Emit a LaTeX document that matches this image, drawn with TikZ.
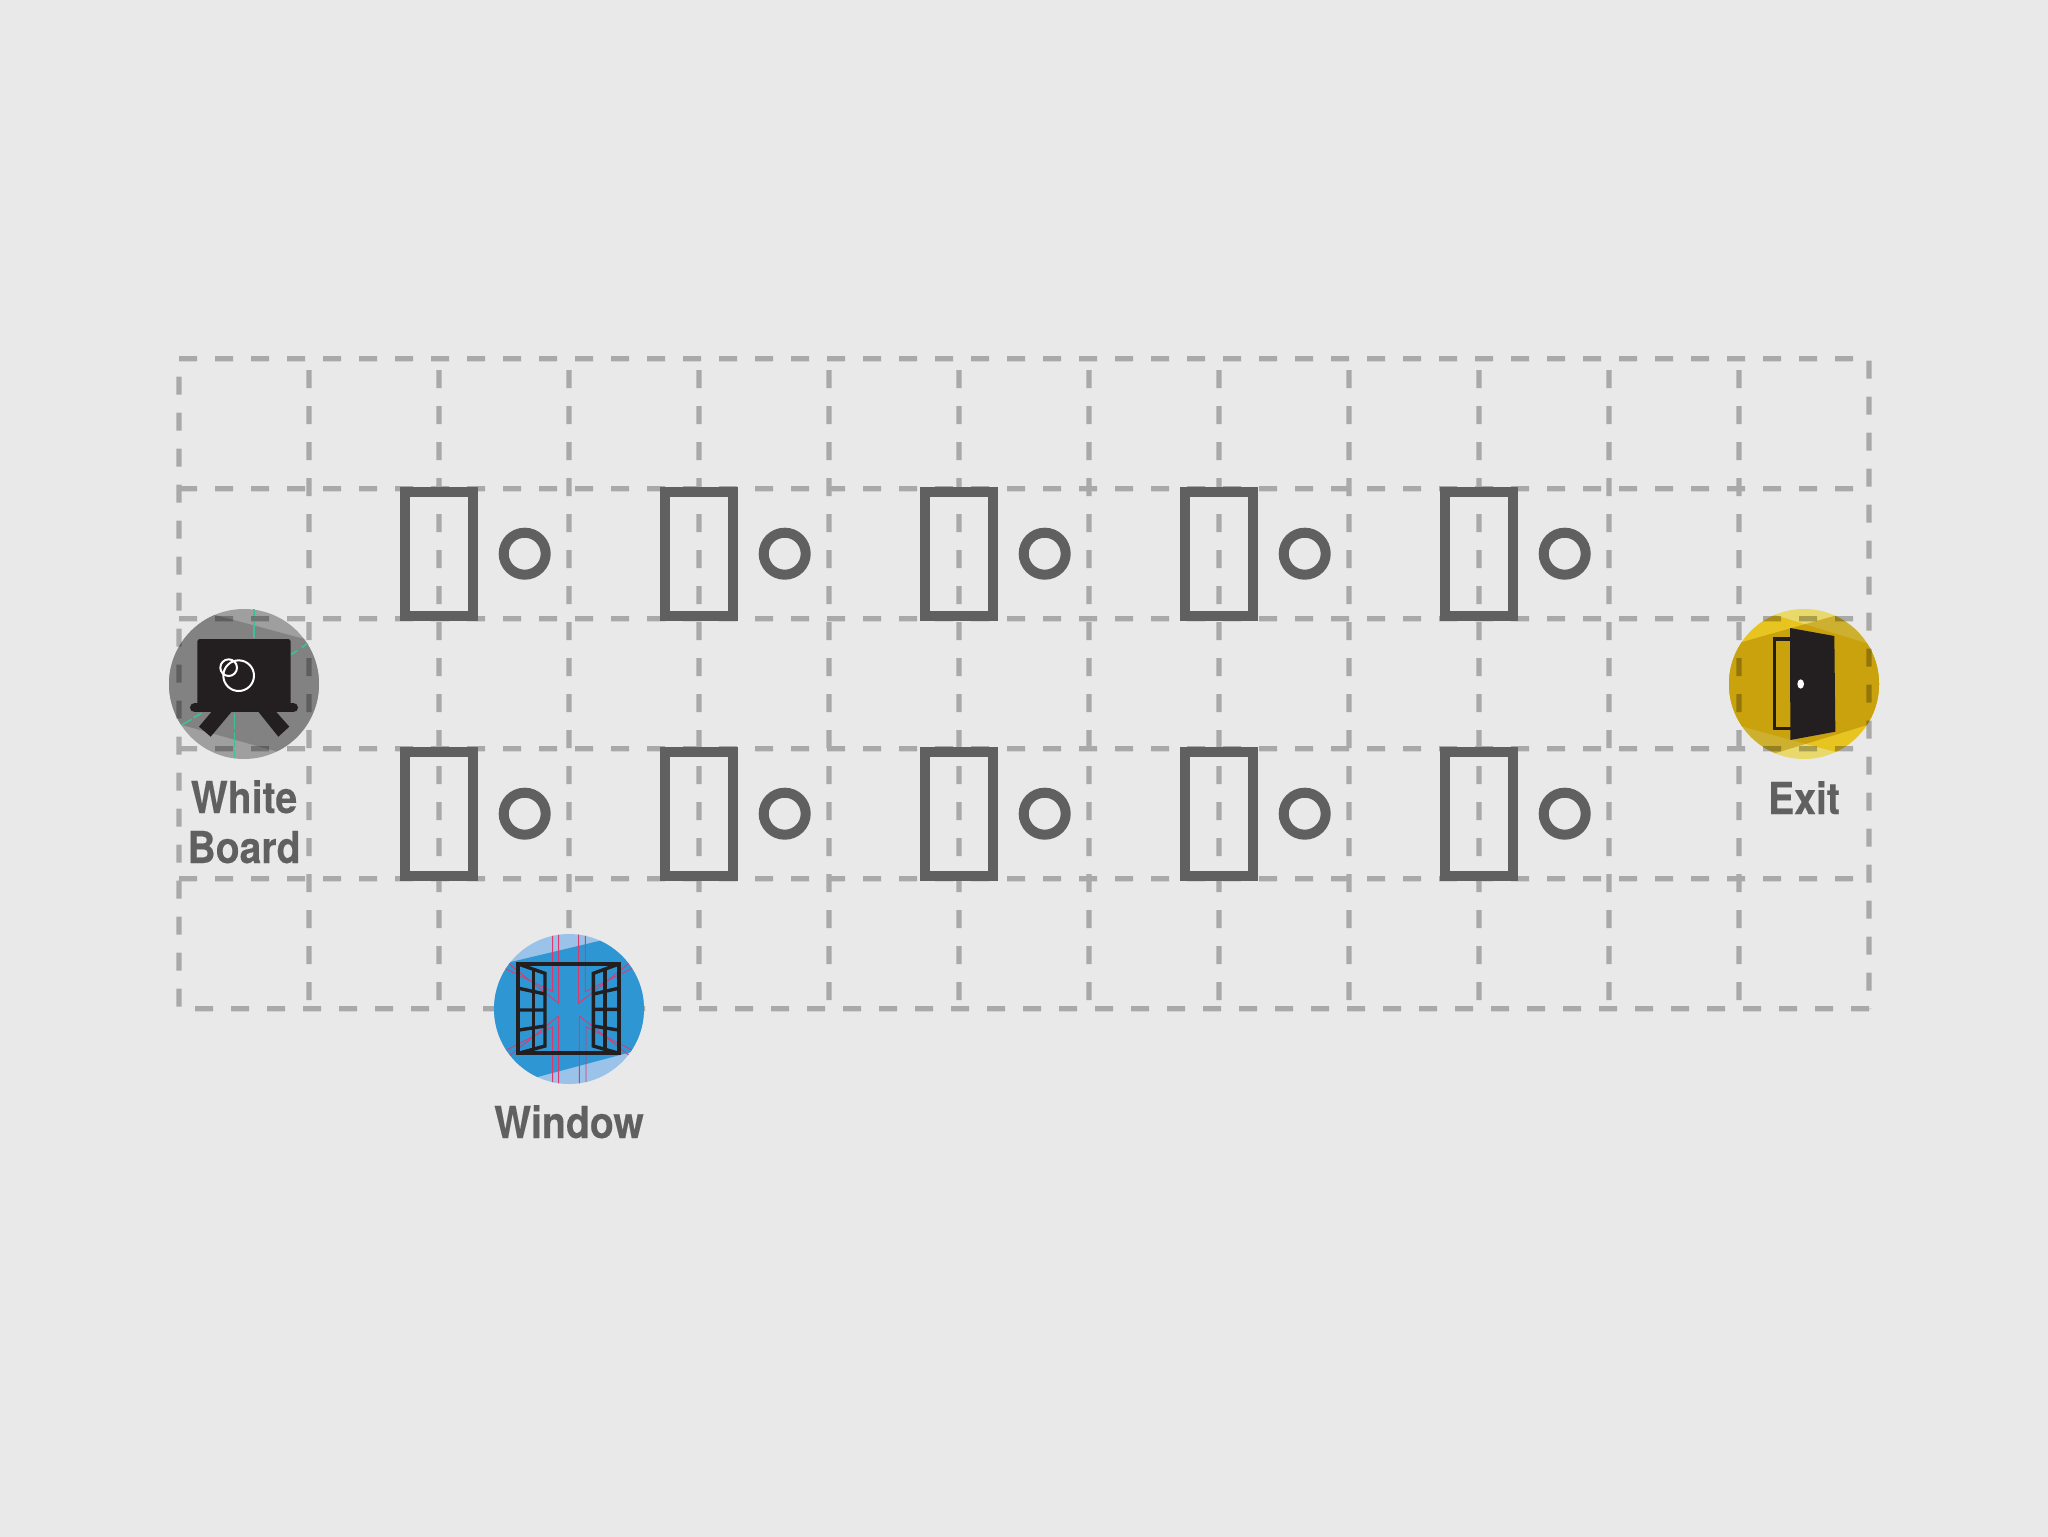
\documentclass[tikz,border=0pt]{standalone}
\usepackage{fontspec}
\setmainfont{TeX Gyre Heros}[FakeStretch=0.89,BoldFeatures={FakeBold=0.25}]
\definecolor{bgc}{HTML}{E9E9E9}
\definecolor{ink}{HTML}{606060}
\definecolor{iconk}{HTML}{231F20}
\definecolor{gbase}{HTML}{9F9F9F}
\definecolor{gband}{HTML}{828282}
\definecolor{teal}{HTML}{3FBF9A}
\definecolor{blight}{HTML}{9BC2E8}
\definecolor{bband}{HTML}{2E97D3}
\definecolor{pink}{HTML}{DB3A6E}
\definecolor{ypale}{HTML}{E8D96A}
\definecolor{ybright}{HTML}{E8C420}
\definecolor{yolive}{HTML}{CDB02F}
\definecolor{ygold}{HTML}{C9A20E}
\tikzset{
  gridline/.style={line width=2.7pt,dash pattern=on 9pt off 9pt},
  deskbox/.style={draw=ink,line width=5pt},
  lbl/.style={text=ink,font=\fontsize{22}{25}\selectfont\bfseries,inner sep=0pt,anchor=base,align=center},
  iconline/.style={draw=iconk,line width=1.7pt},
  thinred/.style={draw=pink,line width=0.45pt},
  thingreen/.style={draw=teal,line width=0.8pt}
}
\begin{document}
\begin{tikzpicture}[x=0.5pt,y=-0.5pt]
\useasboundingbox (0,0) rectangle (2048,1536);
\fill[bgc] (-10,-10) rectangle (2060,1550);

% White board disc
\begin{scope}[shift={(150,590)},scale=1/3]
  \fill[gbase] (282,282) circle (225);
  \begin{scope}
    \clip (282,282) circle (225);
    \fill[gband] (0,22) -- (600,184) -- (600,546) -- (0,378) -- cycle;
  \end{scope}
  \draw[thingreen] (312,58) -- (312,82) (312,95) -- (312,145);
  \draw[thingreen] (253,370) -- (253,418) (253,425) -- (253,470) (253,480) -- (253,505);
  \draw[thingreen] (420,195) -- (442,182) (455,173) -- (472,160);
  \draw[thingreen] (95,405) -- (125,388) (130,383) -- (155,370);
\end{scope}

% Exit disc
\begin{scope}[shift={(1710,590)},scale=1/3]
  \fill[ypale] (282,282) circle (225);
  \begin{scope}
    \clip (282,282) circle (225);
    \fill[ybright] (0,15) -- (600,200) -- (600,547) -- (0,383) -- cycle;
    \fill[yolive] (0,184) -- (600,13) -- (600,365) -- (0,550) -- cycle;
    \clip (0,15) -- (600,200) -- (600,547) -- (0,383) -- cycle;
    \fill[ygold] (0,184) -- (600,13) -- (600,365) -- (0,550) -- cycle;
  \end{scope}
\end{scope}

% Grid, multiplied over the discs
\begin{scope}[transparency group,opacity=0.27]
  \foreach \y in {358.7,488.7,618.7,748.7,878.7}
    \draw[gridline,black] (179,\y) -- (1869,\y);
  \draw[gridline,black] (1869,1008.7) -- (179,1008.7);
  \foreach \k in {1,...,12}
    \draw[gridline,black] ({179+130*\k},1000) -- ({179+130*\k},370);
  \draw[gridline,black] (179,1006.7) -- (179,376.7);
  \draw[gridline,black] (1869,360.7) -- (1869,1009);
\end{scope}

% Window disc, opaque over the grid
\begin{scope}[shift={(480,920)},scale=1/3]
  \fill[blight] (267,267) circle (225);
  \begin{scope}
    \clip (267,267) circle (225);
    \fill[bband] (0,148) -- (600,5) -- (600,357) -- (0,517) -- cycle;
    \draw[thinred] (218,40) -- (218,215) -- (70,143);
    \draw[thinred] (236,40) -- (236,250) -- (85,130);
    \draw[thinred] (296,40) -- (296,250) -- (450,128);
    \draw[thinred] (316,40) -- (316,215) -- (460,143);
    \draw[thinred] (218,495) -- (218,320) -- (75,392);
    \draw[thinred] (236,495) -- (236,288) -- (88,408);
    \draw[thinred] (298,495) -- (298,288) -- (450,408);
    \draw[thinred] (318,495) -- (318,320) -- (460,392);
  \end{scope}
\end{scope}

% Desks and seats
\foreach \yc in {553.7,813.7}
  \foreach \xc in {439,699,959,1219,1479} {
    \draw[deskbox] (\xc-34,\yc-62) rectangle (\xc+34,\yc+62);
    \draw[deskbox] (\xc+85.7,\yc) circle (21);
  }

% White board icon
\begin{scope}[shift={(150,590)},scale=1/3]
  \fill[iconk,rounded corners=1.3pt] (142,147) rectangle (422,350);
  \draw[iconk,line width=4.7pt,line cap=round] (134,353) -- (430,353);
  \fill[iconk] (245,365) -- (182,440) -- (147,410) -- (185,365) -- cycle;
  \fill[iconk] (325,365) -- (385,440) -- (418,410) -- (378,365) -- cycle;
  \draw[white,line width=1pt] (266,257) circle (46);
  \draw[white,line width=1pt] (236,233) circle (25);
\end{scope}

% Window icon
\begin{scope}[shift={(480,920)},scale=1/3]
  \draw[iconline,line width=2pt] (115,132) rectangle (417,400);
  \draw[iconline] (115,132) -- (195,160) -- (195,378) -- (115,400);
  \draw[iconline] (160,145) -- (160,388);
  \draw[iconline] (117,205) -- (195,222) (117,270) -- (195,270) (117,330) -- (195,318);
  \draw[iconline] (417,132) -- (340,160) -- (340,378) -- (417,400);
  \draw[iconline] (375,145) -- (375,388);
  \draw[iconline] (415,205) -- (340,222) (340,268) -- (415,268) (415,330) -- (340,318);
\end{scope}

% Exit icon
\begin{scope}[shift={(1710,590)},scale=1/3]
  \draw[iconk,line width=1.7pt] (242,147) -- (193,147) -- (193,415) -- (242,415);
  \fill[iconk] (240,114) -- (373,138) -- (376,425) -- (241,450) -- cycle;
  \fill[white] (272,282) ellipse (10 and 14);
\end{scope}

% Labels
\node[lbl] (whiteboard) at (244,863) {White\\Board};
\node[lbl] (window) at (569,1138) {Window};
\node[lbl] (exit) at (1804,814) {Exit};
\end{tikzpicture}
\end{document}
